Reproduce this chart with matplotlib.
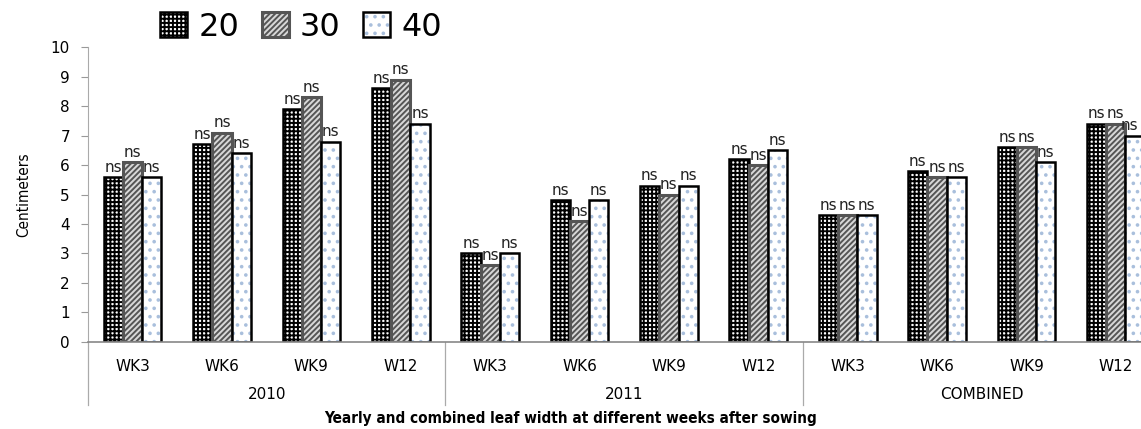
import numpy as np
import matplotlib
matplotlib.use("Agg")
import matplotlib.pyplot as plt
from matplotlib.transforms import blended_transform_factory

plt.rcParams['font.family'] = ['DejaVu Sans']
plt.rcParams['hatch.linewidth'] = 1.4

groups = ['2010', '2011', 'COMBINED']
weeks = ['WK3', 'WK6', 'WK9', 'W12']
series = ['20', '30', '40']
vals_20 = [5.6, 6.7, 7.9, 8.6, 3.0, 4.8, 5.3, 6.2, 4.3, 5.8, 6.6, 7.4]
vals_30 = [6.1, 7.1, 8.3, 8.9, 2.6, 4.1, 5.0, 6.0, 4.3, 5.6, 6.6, 7.4]
vals_40 = [5.6, 6.4, 6.8, 7.4, 3.0, 4.8, 5.3, 6.5, 4.3, 5.6, 6.1, 7.0]
sig = ['ns'] * 12

fig = plt.figure(figsize=(11.41, 4.29), dpi=100)
ax = fig.add_axes([0.0771, 0.203, 0.94, 0.687])

n = len(groups) * len(weeks)
x = np.arange(n)
w = 0.215
styles = [
    dict(facecolor='white', hatch='++++', edgecolor='black', linewidth=1.8),
    dict(facecolor='#d8d8d8', hatch='//////', edgecolor='#555555', linewidth=2.2),
    dict(facecolor='white', hatch='..', edgecolor='black', linewidth=1.8),
]
hatch_cols = ['black', '#555555', '#a9bfdc']
handles = []
for i, (vals, st, hc) in enumerate(zip([vals_20, vals_30, vals_40], styles, hatch_cols)):
    bars = ax.bar(x + (i - 1) * w, vals, w, label=series[i], **st)
    for b in bars:
        b._hatch_color = matplotlib.colors.to_rgba(hc)
    handles.append(bars)
    for j, (xi, v) in enumerate(zip(x + (i - 1) * w, vals)):
        # keep the last label inside the figure
        dx = -0.06 if (i == 2 and j == n - 1) else 0
        ax.text(xi + dx, v + 0.08, sig[j], ha='center', va='bottom', fontsize=11,
                color='#222222')

ax.set_xlim(-0.5, n - 0.5)
ax.set_ylim(0, 10)
ax.set_yticks(range(0, 11))
ax.tick_params(axis='y', labelsize=11, length=5, color='#999999', pad=8)
ax.set_xticks(x)
ax.set_xticklabels(weeks * len(groups), fontsize=11)
ax.tick_params(axis='x', length=0, pad=12)

for s in ['top', 'right']:
    ax.spines[s].set_visible(False)
ax.spines['left'].set_color('#aaaaaa')
ax.spines['bottom'].set_color('#888888')
ax.spines['bottom'].set_linewidth(1.2)

tr = blended_transform_factory(ax.transData, ax.transAxes)
for g in range(len(groups) + 1):
    xs = g * len(weeks) - 0.5
    ax.plot([xs, xs], [0, -0.215], transform=tr, color='#aaaaaa', lw=0.9, clip_on=False)
for g, name in enumerate(groups):
    ax.text(g * len(weeks) + 1.5, -0.18, name, transform=tr, ha='center', va='center', fontsize=11)

ax.set_ylabel('Centimeters', fontsize=11, fontstretch='condensed', labelpad=14)
fig.text(0.5, 0.025, 'Yearly and combined leaf width at different weeks after sowing',
         ha='center', va='center', fontsize=11, fontweight='bold', fontstretch='condensed')

leg = fig.legend(handles=handles, labels=series, loc='upper left', bbox_to_anchor=(0.115, 1.04),
                 ncol=3, frameon=False, fontsize=23, handlelength=0.85, handleheight=0.85,
                 handletextpad=0.35, columnspacing=0.7)

fig.savefig('out.png', dpi=100)
